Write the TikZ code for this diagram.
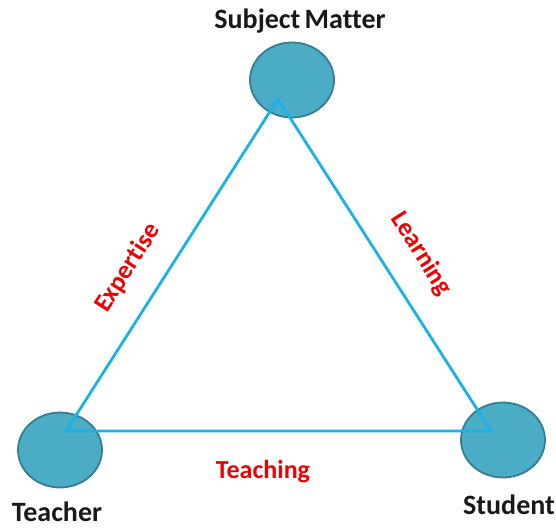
\documentclass[tikz,border=0pt]{standalone}
\usepackage{fontspec}
\setmainfont{Carlito}[Ligatures=NoCommon]
\usetikzlibrary{shapes.geometric}
\definecolor{circfill}{HTML}{4BACC6}
\definecolor{circedge}{HTML}{357D91}
\definecolor{edgeblue}{HTML}{1AB0E8}
\definecolor{labred}{HTML}{F00000}
\begin{document}
\begin{tikzpicture}[x=1pt,y=-1pt,
  vertex/.style={ellipse,draw=circedge,line width=1.8pt,fill=circfill,minimum width=84pt,minimum height=75pt,inner sep=0pt},
  vlabel/.style={font=\bfseries\fontsize{28}{32}\selectfont,text=black!90,inner sep=0pt},
  edgelab/.style={font=\bfseries\fontsize{26}{30}\selectfont,text=labred,inner sep=0pt},
  side/.style={draw=edgeblue,line width=2.8pt,line join=miter}]
\useasboundingbox (0,0) rectangle (556,527);
\node[vertex] (cs) at (292,80) {};
\node[vertex] (ct) at (60,450) {};
\node[vertex] (cu) at (503,440) {};
\coordinate (A) at (278,99);
\coordinate (B) at (66,431);
\coordinate (C) at (491,431);
\draw[side] (A) -- (B) -- (C) -- cycle;
\node[vlabel] (ls) at (300,21) {Subject\hspace{-2pt} Matter};
\node[vlabel] (lt) at (57,512) {Teacher};
\node[vlabel] (lu) at (509,505) {Student};
\node[edgelab] (le) at (128,268) [rotate=57.5] {Expertise};
\node[edgelab] (ll) at (421,254) [rotate=-57.5] {Learning};
\node[edgelab] (lg) at (263,472) {Teaching};
\end{tikzpicture}
\end{document}
